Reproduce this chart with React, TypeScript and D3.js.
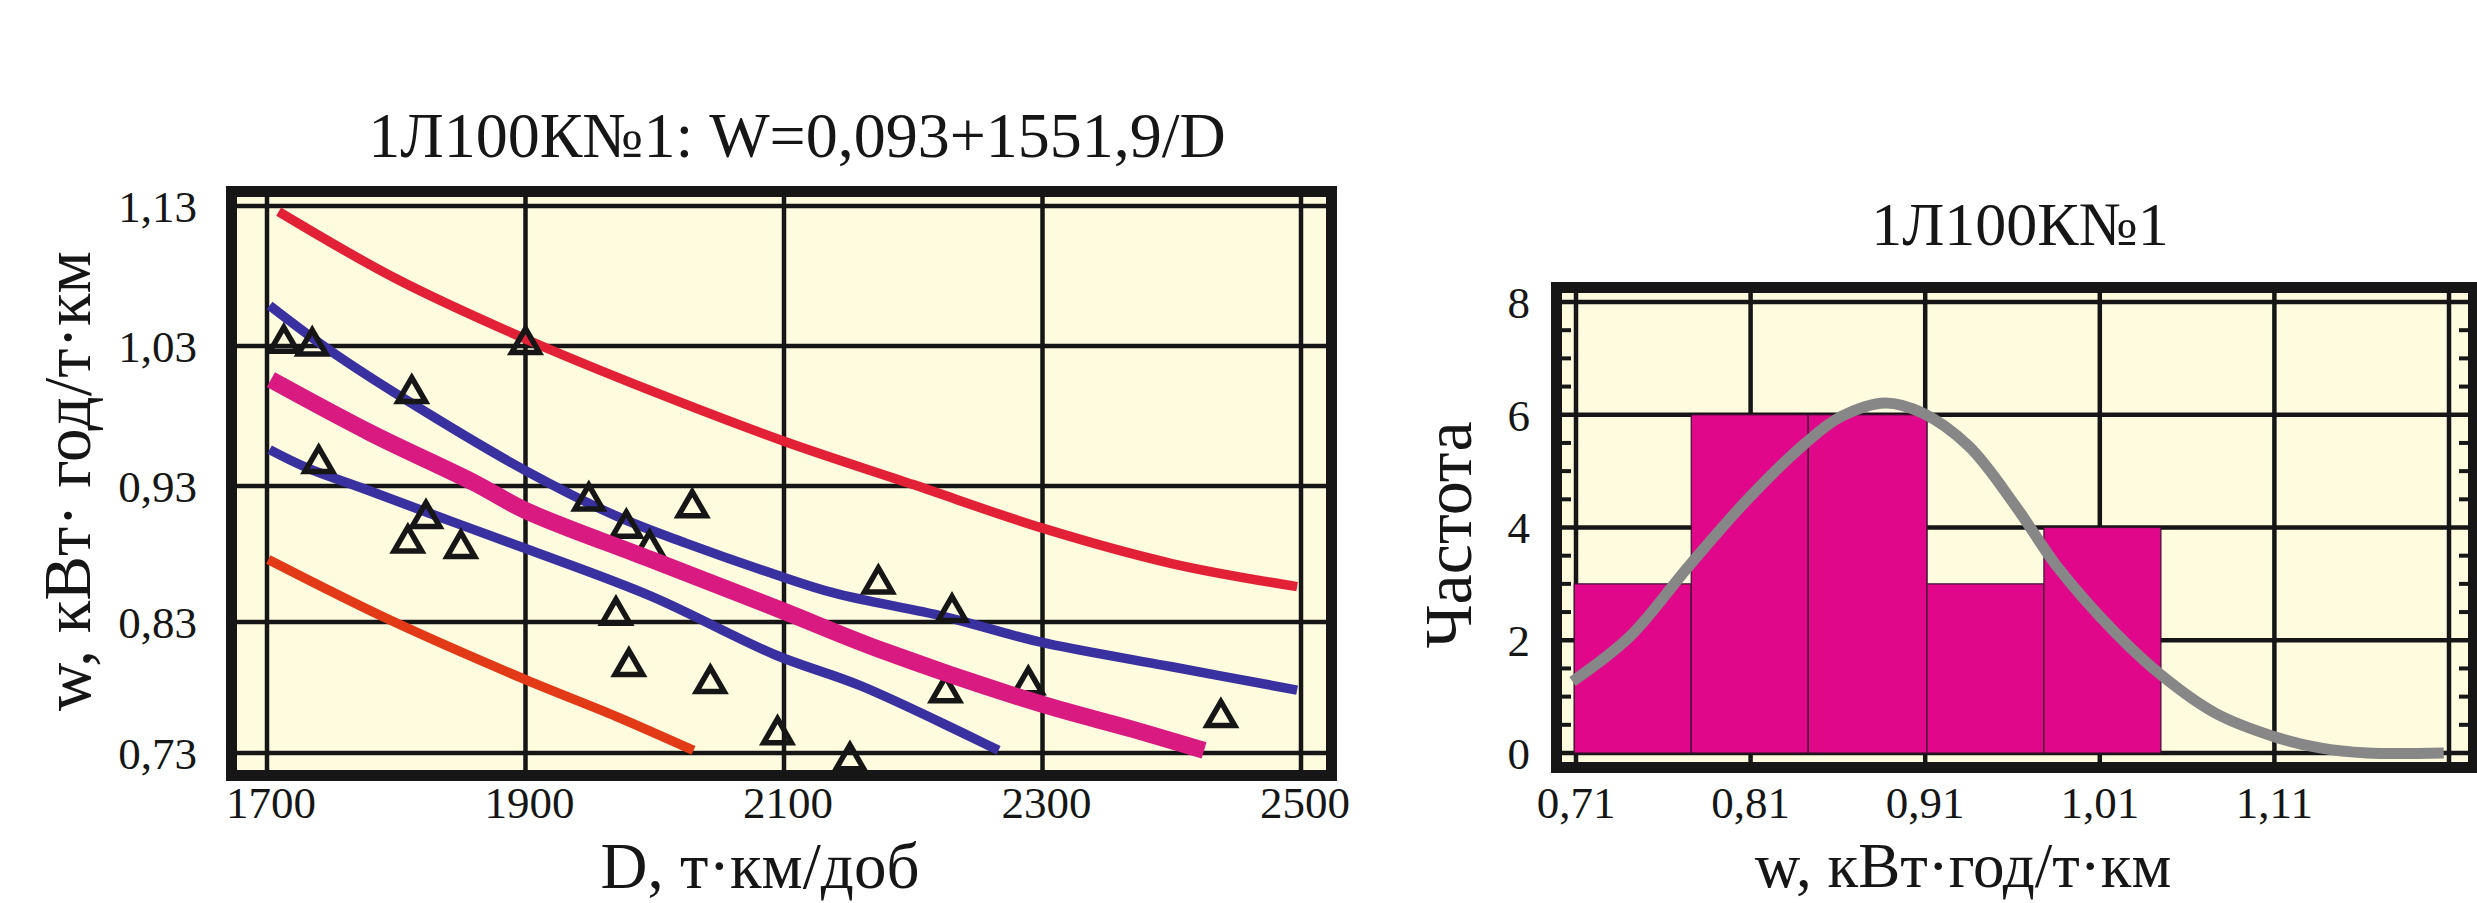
import React from "react";
import * as d3 from "d3";

const FONT = "'Liberation Serif', 'Times New Roman', serif";
const CREAM = "#FFFBDF";
const INK = "#161616";

// ---- left panel: w against D
const dTicks = [1700, 1900, 2100, 2300, 2500];
const wTicks = [0.73, 0.83, 0.93, 1.03, 1.13];
const wTickLabels = ["0,73", "0,83", "0,93", "1,03", "1,13"];

// observed points [D, w]
const observed: [number, number][] = [
  [1713, 1.032], [1735, 1.03], [1812, 0.996], [1900, 1.031], [1740, 0.946],
  [1823, 0.906], [1809, 0.888], [1850, 0.884], [1949, 0.919], [2029, 0.914],
  [1978, 0.899], [1996, 0.884], [1970, 0.835], [1980, 0.796], [2043, 0.783],
  [2095, 0.744], [2151, 0.724], [2173, 0.858], [2230, 0.837], [2225, 0.776],
  [2289, 0.782], [2438, 0.757],
];

const upperLimit: [number, number][] = [
  [1709, 1.126], [1800, 1.078], [1900, 1.035], [2000, 0.997], [2100, 0.962],
  [2200, 0.931], [2300, 0.899], [2400, 0.873], [2497, 0.856],
];
const upperBand: [number, number][] = [
  [1702, 1.059], [1750, 1.026], [1812, 0.989], [1900, 0.941], [1970, 0.908],
  [2024, 0.888], [2090, 0.866], [2140, 0.851], [2224, 0.834], [2297, 0.815],
  [2399, 0.796], [2497, 0.778],
];
const regression: [number, number][] = [
  [1703, 1.006], [1780, 0.968], [1861, 0.932], [1900, 0.912], [1997, 0.876],
  [2097, 0.839], [2174, 0.809], [2297, 0.768], [2370, 0.748], [2425, 0.732],
];
const lowerBand: [number, number][] = [
  [1702, 0.956], [1731, 0.943], [1775, 0.928], [1834, 0.907], [1900, 0.884],
  [1997, 0.849], [2093, 0.805], [2160, 0.781], [2266, 0.732],
];
const lowerLimit: [number, number][] = [
  [1701, 0.876], [1794, 0.832], [1900, 0.786], [1970, 0.758], [2030, 0.732],
];

// ---- right panel: histogram of w
const binEdges = [0.709, 0.776, 0.843, 0.911, 0.978, 1.045];
const binCounts = [3, 6, 6, 3, 4];
const hGrid = [0.71, 0.81, 0.91, 1.01, 1.11, 1.21];
const hTickLabels = ["0,71", "0,81", "0,91", "1,01", "1,11"];
const fTicks = [0, 2, 4, 6, 8];
const normalCurve: [number, number][] = [
  [0.708, 1.27], [0.741, 2.07], [0.7745, 3.31], [0.808, 4.49], [0.8415, 5.5],
  [0.862, 5.97], [0.887, 6.21], [0.9085, 6.03], [0.935, 5.44], [0.962, 4.37],
  [0.9855, 3.31], [1.019, 2.13], [1.046, 1.36], [1.076, 0.71], [1.11, 0.29],
  [1.136, 0.09], [1.163, 0.0], [1.207, 0.0],
];

export default function App() {
  // left panel box (inner edge of frame)
  const L = { x0: 237, x1: 1326, y0: 197, y1: 770, bw: 11 };
  const x = d3.scaleLinear().domain([1700, 2500]).range([267, 1301]);
  const y = d3.scaleLinear().domain(wTicks).range([753, 622, 486, 346, 206]);
  const line = d3
    .line<[number, number]>()
    .x((d) => x(d[0]))
    .y((d) => y(d[1]))
    .curve(d3.curveCatmullRom.alpha(0.5));
  const tri = d3.symbol().type(d3.symbolTriangle).size(330)() || "";

  // right panel box
  const R = { x0: 1562, x1: 2468, y0: 293, y1: 762, bw: 11 };
  const hx = d3.scaleLinear().domain([0.71, 1.21]).range([1576, 2449]);
  const hy = d3.scaleLinear().domain([0, 8]).range([753, 302]);
  const curve = d3
    .line<[number, number]>()
    .x((d) => hx(d[0]))
    .y((d) => hy(d[1]))
    .curve(d3.curveCatmullRom.alpha(0.5));
  const minor = d3.range(0.5, 8, 0.5).filter((v) => v % 2 !== 0);

  const gridW = 4.5;

  return (
    <svg
      width={2477}
      height={903}
      style={{ position: "absolute", left: 0, top: 0, background: "#fff" }}
      fontFamily={FONT}
    >
      {/* ============ left panel ============ */}
      <text x={797} y={157} fontSize={64} textAnchor="middle" fill={INK}>
        1Л100К№1: W=0,093+1551,9/D
      </text>
      <rect
        x={L.x0 - L.bw / 2}
        y={L.y0 - L.bw / 2}
        width={L.x1 - L.x0 + L.bw}
        height={L.y1 - L.y0 + L.bw}
        fill={CREAM}
        stroke={INK}
        strokeWidth={L.bw}
      />
      {dTicks.map((d) => (
        <line key={"vx" + d} x1={x(d)} x2={x(d)} y1={L.y0} y2={L.y1} stroke={INK} strokeWidth={gridW} />
      ))}
      {wTicks.map((w) => (
        <line key={"hy" + w} x1={L.x0} x2={L.x1} y1={y(w)} y2={y(w)} stroke={INK} strokeWidth={gridW} />
      ))}

      <path d={line(upperLimit) || ""} fill="none" stroke="#E22136" strokeWidth={9.5} />
      <path d={line(upperBand) || ""} fill="none" stroke="#3A31A0" strokeWidth={9.5} />
      <path d={line(lowerBand) || ""} fill="none" stroke="#3A31A0" strokeWidth={9.5} />
      <path d={line(lowerLimit) || ""} fill="none" stroke="#E23A16" strokeWidth={9.5} />

      {observed.map((p, i) => (
        <path
          key={"pt" + i}
          d={tri}
          transform={`translate(${x(p[0])},${y(p[1])})`}
          fill="none"
          stroke={INK}
          strokeWidth={5.5}
          strokeLinejoin="miter"
        />
      ))}

      <path d={line(regression) || ""} fill="none" stroke="#D91A80" strokeWidth={17} />

      {wTicks.map((w, i) => (
        <text key={"yl" + w} x={197} y={y(w)} dy="0.35em" fontSize={45} textAnchor="end" fill={INK}>
          {wTickLabels[i]}
        </text>
      ))}
      {dTicks.map((d) => (
        <text key={"xl" + d} x={x(d) + 4} y={818} fontSize={45} textAnchor="middle" fill={INK}>
          {d}
        </text>
      ))}
      <text x={760} y={888} fontSize={65} textAnchor="middle" fill={INK}>
        D, т·км/доб
      </text>
      <text transform="translate(90,481) rotate(-90)" fontSize={67} textAnchor="middle" fill={INK}>
        w, кВт· год/т·км
      </text>

      {/* ============ right panel ============ */}
      <text x={2020} y={245} fontSize={62} textAnchor="middle" fill={INK}>
        1Л100К№1
      </text>
      <rect
        x={R.x0 - R.bw / 2}
        y={R.y0 - R.bw / 2}
        width={R.x1 - R.x0 + R.bw}
        height={R.y1 - R.y0 + R.bw}
        fill={CREAM}
        stroke={INK}
        strokeWidth={R.bw}
      />
      {hGrid.map((v) => (
        <line key={"hvx" + v} x1={hx(v)} x2={hx(v)} y1={R.y0} y2={R.y1} stroke={INK} strokeWidth={gridW} />
      ))}
      {fTicks.map((f) => (
        <line key={"hhy" + f} x1={R.x0} x2={R.x1} y1={hy(f)} y2={hy(f)} stroke={INK} strokeWidth={gridW} />
      ))}
      {minor.map((f) => (
        <g key={"mt" + f}>
          <line x1={R.x0} x2={R.x0 + 9} y1={hy(f)} y2={hy(f)} stroke={INK} strokeWidth={4} />
          <line x1={R.x1 - 9} x2={R.x1} y1={hy(f)} y2={hy(f)} stroke={INK} strokeWidth={4} />
        </g>
      ))}

      {binCounts.map((c, i) => (
        <rect
          key={"bar" + i}
          x={hx(binEdges[i])}
          y={hy(c)}
          width={hx(binEdges[i + 1]) - hx(binEdges[i])}
          height={hy(0) - hy(c)}
          fill="#E1078A"
          stroke="#3B1030"
          strokeWidth={1.2}
        />
      ))}
      <path d={curve(normalCurve) || ""} fill="none" stroke="#878787" strokeWidth={11} />

      {fTicks.map((f) => (
        <text key={"fl" + f} x={1530} y={hy(f)} dy="0.35em" fontSize={45} textAnchor="end" fill={INK}>
          {f}
        </text>
      ))}
      {hGrid.slice(0, hTickLabels.length).map((v, i) => (
        <text key={"hl" + v} x={hx(v)} y={818} fontSize={45} textAnchor="middle" fill={INK}>
          {hTickLabels[i]}
        </text>
      ))}
      <text x={1963} y={887} fontSize={63} textAnchor="middle" fill={INK}>
        w, кВт·год/т·км
      </text>
      <text transform="translate(1471,535) rotate(-90)" fontSize={68} textAnchor="middle" fill={INK}>
        Частота
      </text>
    </svg>
  );
}
